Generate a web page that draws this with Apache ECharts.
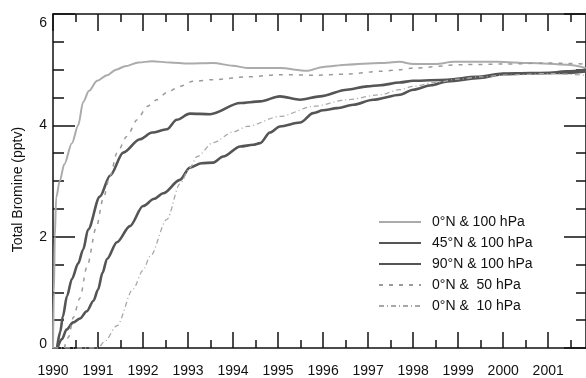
<!DOCTYPE html>
<html>
<head>
<meta charset="utf-8">
<script src="https://cdn.jsdelivr.net/npm/echarts@6/dist/echarts.min.js"></script>
<style>
  html, body { margin: 0; padding: 0; background: #fff; }
  #chart { width: 586px; height: 378px; }
</style>
</head>
<body>
<div id="chart"></div>
<script>
// Axis extents and tick positions
const X_MIN = 1990;
const X_MAX = 2001.84;
const yearTicks = [1990, 1991, 1992, 1993, 1994, 1995, 1996, 1997, 1998, 1999, 2000, 2001];
const halfYearTicks = [1990.5, 1991.5, 1992.5, 1993.5, 1994.5, 1995.5, 1996.5, 1997.5, 1998.5, 1999.5, 2000.5, 2001.5];
const yMajorTicks = [0, 2, 4, 6];
const yMinorTicks = [0.5, 1, 1.5, 2.5, 3, 3.5, 4.5, 5, 5.5];

// Series names
const seriesNames = ['0°N & 100 hPa', '45°N & 100 hPa', '90°N & 100 hPa', '0°N &  50 hPa', '0°N &  10 hPa'];

// 0°N & 100 hPa
const tEq100 = [1990.0, 1990.02, 1990.04, 1990.07, 1990.15, 1990.25, 1990.42, 1990.56, 1990.67, 1990.8, 1990.98, 1991.2, 1991.4, 1991.6, 1991.9, 1992.2, 1992.6, 1993.0, 1993.56, 1994.0, 1994.31, 1995.04, 1995.64, 1996.0, 1996.53, 1997.27, 1997.7, 1998.0, 1998.5, 1998.9, 1999.87, 2000.6, 2001.42, 2001.84];
const vEq100 = [0.0, 1.0, 2.0, 2.7, 3.0, 3.3, 3.68, 4.0, 4.42, 4.62, 4.8, 4.9, 5.0, 5.06, 5.13, 5.15, 5.13, 5.11, 5.12, 5.07, 5.03, 5.03, 4.98, 5.05, 5.09, 5.12, 5.14, 5.1, 5.1, 5.14, 5.14, 5.12, 5.09, 5.03];

// 45°N & 100 hPa
const t45 = [1990.09, 1990.16, 1990.22, 1990.31, 1990.42, 1990.56, 1990.67, 1990.78, 1991.04, 1991.27, 1991.56, 1991.93, 1992.2, 1992.53, 1992.75, 1993.04, 1993.49, 1994.16, 1994.6, 1995.04, 1995.49, 1995.93, 1996.53, 1996.98, 1997.27, 1997.7, 1998.0, 1998.76, 1999.4, 2000.0, 2000.6, 2001.33, 2001.84];
const v45 = [0.0, 0.29, 0.57, 0.93, 1.24, 1.52, 1.77, 2.13, 2.72, 3.1, 3.51, 3.75, 3.87, 3.93, 4.1, 4.21, 4.2, 4.4, 4.43, 4.52, 4.46, 4.52, 4.64, 4.7, 4.72, 4.77, 4.8, 4.82, 4.87, 4.93, 4.94, 4.94, 4.97];

// 90°N & 100 hPa
const t90 = [1990.1, 1990.2, 1990.3, 1990.45, 1990.6, 1990.75, 1990.9, 1991.0, 1991.1, 1991.2, 1991.42, 1991.71, 1992.0, 1992.25, 1992.45, 1992.82, 1993.04, 1993.3, 1993.56, 1993.78, 1994.16, 1994.45, 1994.6, 1994.82, 1995.04, 1995.49, 1995.78, 1996.0, 1996.31, 1996.67, 1997.11, 1997.71, 1998.0, 1998.4, 1998.76, 1999.49, 2000.0, 2000.5, 2000.98, 2001.4, 2001.84];
const v90 = [0.0, 0.16, 0.33, 0.46, 0.53, 0.66, 0.85, 1.05, 1.35, 1.6, 1.9, 2.19, 2.55, 2.68, 2.78, 3.02, 3.24, 3.32, 3.33, 3.44, 3.62, 3.65, 3.68, 3.87, 3.98, 4.05, 4.22, 4.27, 4.31, 4.37, 4.46, 4.55, 4.64, 4.72, 4.79, 4.85, 4.92, 4.93, 4.94, 4.97, 5.0];

// 0°N & 50 hPa
const t50 = [1990.25, 1990.35, 1990.45, 1990.6, 1990.75, 1990.97, 1991.11, 1991.27, 1991.42, 1991.64, 1991.87, 1992.09, 1992.31, 1992.53, 1992.82, 1993.11, 1993.56, 1994.3, 1995.04, 1995.8, 1996.53, 1997.27, 1997.7, 1998.0, 1999.1, 2000.0, 2001.0, 2001.84];
const v50 = [0.0, 0.2, 0.55, 0.9, 1.45, 2.19, 2.67, 3.1, 3.5, 3.8, 4.1, 4.34, 4.46, 4.59, 4.7, 4.79, 4.82, 4.87, 4.91, 4.9, 4.92, 4.97, 5.0, 5.03, 5.09, 5.1, 5.12, 5.1];

// 0°N & 10 hPa
const t10 = [1990.0, 1991.0, 1991.15, 1991.42, 1991.78, 1992.0, 1992.16, 1992.53, 1992.82, 1993.04, 1993.2, 1993.56, 1994.0, 1994.31, 1995.04, 1995.78, 1996.53, 1997.27, 1997.7, 1998.0, 1998.5, 1999.0, 1999.5, 2000.0, 2001.0, 2001.84];
const v10 = [0.0, 0.0, 0.12, 0.4, 1.06, 1.4, 1.65, 2.31, 2.95, 3.24, 3.44, 3.69, 3.88, 3.98, 4.16, 4.34, 4.46, 4.55, 4.64, 4.7, 4.77, 4.83, 4.87, 4.9, 4.93, 4.9];

const zip = (ts, vs) => ts.map((t, i) => [t, vs[i]]);

const FONT = '"Liberation Sans", Arial, Helvetica, sans-serif';
const INK = '#111';

function xAxisDef(position, ticks, len, showLine, showLabels) {
  return {
    type: 'value', position: position, min: X_MIN, max: X_MAX,
    gridIndex: 0,
    axisLine: { show: showLine, onZero: false, lineStyle: { color: INK, width: 1.5 } },
    axisTick: { show: true, inside: true, length: len, customValues: ticks, lineStyle: { color: INK, width: 1.5 } },
    axisLabel: showLabels ? {
      show: true, customValues: ticks, margin: 16,
      color: INK, fontFamily: FONT, fontSize: 14,
      formatter: v => String(Math.round(v))
    } : { show: false },
    splitLine: { show: false }
  };
}

function yAxisDef(position, ticks, len, showLine, showLabels) {
  const def = {
    type: 'value', position: position, min: 0, max: 6,
    gridIndex: 0,
    axisLine: { show: showLine, onZero: false, lineStyle: { color: INK, width: 1.5 } },
    axisTick: { show: true, inside: true, length: len, customValues: ticks, lineStyle: { color: INK, width: 1.5 } },
    axisLabel: { show: false },
    splitLine: { show: false }
  };
  if (showLabels) {
    def.axisLabel = {
      show: true, customValues: ticks, margin: 6,
      color: INK, fontFamily: FONT, fontSize: 14,
      formatter: v => v === 6 ? '{top|6}' : (v === 0 ? '{bot|0}' : String(v)),
      rich: {
        top: { fontFamily: FONT, fontSize: 14, color: INK, padding: [18, 0, 0, 0] },
        bot: { fontFamily: FONT, fontSize: 14, color: INK, padding: [0, 0, 8, 0] }
      }
    };
    def.name = 'Total Bromine (pptv)';
    def.nameLocation = 'middle';
    def.nameGap = 28;
    def.nameTextStyle = { fontFamily: FONT, fontSize: 14, color: INK, padding: [0, 17, 0, 0] };
  }
  return def;
}

const chart = echarts.init(document.getElementById('chart'), null, { renderer: 'canvas' });

const lineDefs = [
  { name: seriesNames[0], data: zip(tEq100, vEq100), color: '#ababab', width: 2, type: 'solid' },
  { name: seriesNames[1], data: zip(t45, v45), color: '#555555', width: 2.6, type: 'solid' },
  { name: seriesNames[2], data: zip(t90, v90), color: '#555555', width: 2.6, type: 'solid' },
  { name: seriesNames[3], data: zip(t50, v50), color: '#9a9a9a', width: 1.5, type: [4, 6] },
  { name: seriesNames[4], data: zip(t10, v10), color: '#a8a8a8', width: 1.3, type: [5, 3, 1, 3] }
];

chart.setOption({
  animation: false,
  backgroundColor: '#fff',
  grid: { left: 53, right: -1, top: 14, bottom: 29, containLabel: false },
  xAxis: [
    xAxisDef('bottom', yearTicks, 16, true, true),
    xAxisDef('bottom', halfYearTicks, 8, false, false),
    xAxisDef('top', yearTicks, 17, true, false),
    xAxisDef('top', halfYearTicks, 8, false, false)
  ],
  yAxis: [
    yAxisDef('left', yMajorTicks, 22, true, true),
    yAxisDef('left', yMinorTicks, 11, false, false),
    yAxisDef('right', yMajorTicks, 22, true, false),
    yAxisDef('right', yMinorTicks, 10, false, false)
  ],
  legend: {
    orient: 'vertical', left: 373, top: 210,
    itemWidth: 42, itemHeight: 14, itemGap: 7,
    itemStyle: { opacity: 0 },
    textStyle: { fontFamily: FONT, fontSize: 14, color: INK, padding: [0, 0, 0, 6] },
    data: seriesNames
  },
  series: lineDefs.map(d => ({
    name: d.name, type: 'line', xAxisIndex: 0, yAxisIndex: 0,
    data: d.data, showSymbol: false, symbol: 'none',
    smooth: 0.3, smoothMonotone: 'x',
    lineStyle: { color: d.color, width: d.width, type: d.type },
    itemStyle: { color: d.color }
  }))
});
</script>
</body>
</html>
